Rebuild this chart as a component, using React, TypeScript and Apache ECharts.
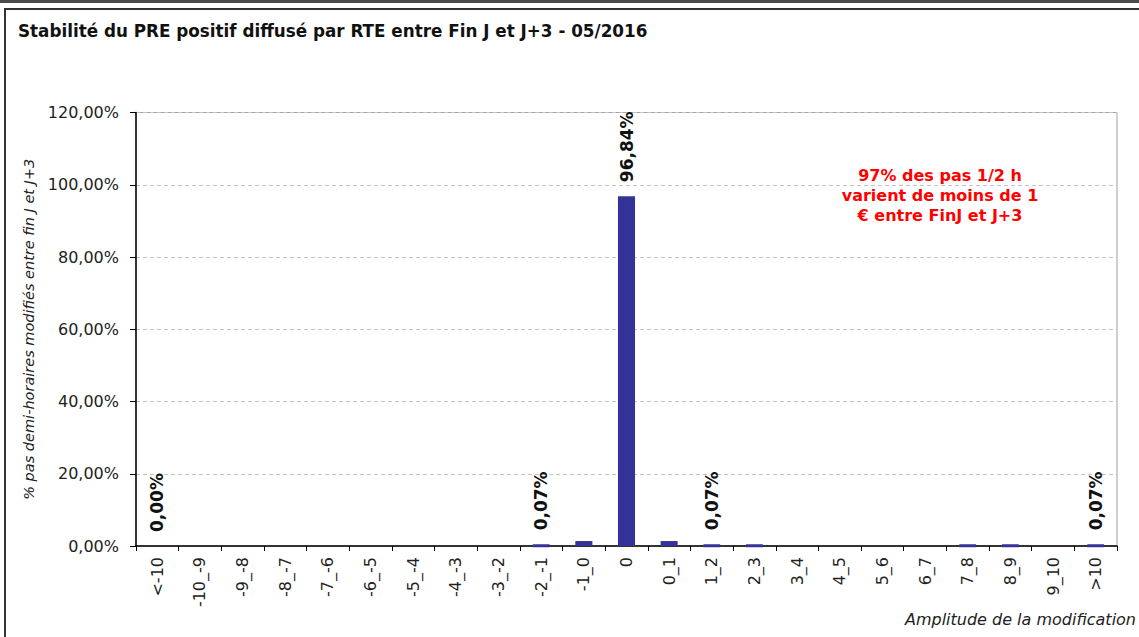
import React, { useEffect, useRef } from "react";
import * as echarts from "echarts";

const categories = [
  "<-10", "-10_-9", "-9_-8", "-8_-7", "-7_-6", "-6_-5", "-5_-4", "-4_-3", "-3_-2",
  "-2_-1", "-1_0", "0", "0_1", "1_2", "2_3", "3_4", "4_5", "5_6", "6_7", "7_8",
  "8_9", "9_10", ">10",
];
const values = [
  0, 0, 0, 0, 0, 0, 0, 0, 0,
  0.07, 1.37, 96.84, 1.37, 0.07, 0.07, 0, 0, 0, 0, 0.07,
  0.07, 0, 0.07,
];
const labeledCategories = ["<-10", "-2_-1", "0", "1_2", ">10"];
const yTicks = [0, 20, 40, 60, 80, 100, 120];

const title = "Stabilité du PRE positif diffusé par RTE entre Fin J et J+3 - 05/2016";
const yAxisName = "% pas demi-horaires modifiés entre fin J et J+3";
const xAxisName = "Amplitude de la modification";
const annotation = "97% des pas 1/2 h\nvarient de moins de 1\n€ entre FinJ et J+3";

const FONT = "DejaVu Sans";
const BAR = "#333399";

const fmt = (v: number) => v.toFixed(2).replace(".", ",") + "%";

export default function App() {
  const ref = useRef<HTMLDivElement>(null);
  useEffect(() => {
    if (!ref.current) return;
    const chart = echarts.init(ref.current, null, { renderer: "svg" });
    const data = values.map((v, i) => {
      const item: any = { value: v };
      if (v > 0) item.itemStyle = { borderColor: BAR, borderWidth: 3 };
      if (labeledCategories.includes(categories[i])) {
        item.label = {
          show: true,
          position: "top",
          rotate: 90,
          align: "left",
          verticalAlign: "middle",
          distance: 14,
          formatter: (p: any) => fmt(p.value),
          fontFamily: FONT,
          fontWeight: "bold",
          fontSize: 17,
          color: "#111",
        };
      }
      return item;
    });
    chart.setOption({
      animation: false,
      backgroundColor: "#fff",
      textStyle: { fontFamily: FONT },
      grid: {
        left: 136,
        right: 22,
        top: 112.5,
        bottom: 91,
        show: true,
        borderColor: "#a0a0a0",
        borderWidth: 1,
        containLabel: false,
      },
      graphic: [
        { type: "rect", shape: { x: 0, y: 0, width: 1139, height: 3 }, style: { fill: "#4a4a4a" } },
        {
          type: "rect",
          shape: { x: 5, y: 9, width: 1200, height: 700 },
          style: { fill: "none", stroke: "#333", lineWidth: 2 },
        },
        {
          type: "text",
          left: 18,
          top: 22,
          style: { text: title, font: `bold 16.8px "${FONT}"`, fill: "#111" },
        },
        {
          type: "text",
          x: 940,
          y: 165,
          style: {
            text: annotation,
            font: `bold 16px "${FONT}"`,
            fill: "#ff0000",
            align: "center",
            lineHeight: 20,
          },
        },
      ],
      xAxis: {
        type: "category",
        data: categories,
        boundaryGap: true,
        name: xAxisName,
        nameLocation: "end",
        nameGap: 19,
        nameTextStyle: {
          fontFamily: FONT,
          fontStyle: "italic",
          fontSize: 16,
          color: "#222",
          align: "right",
          verticalAlign: "top",
          padding: [65, 0, 0, 0],
        },
        axisLine: { lineStyle: { color: "#000", width: 1.5 } },
        axisTick: { show: true, alignWithLabel: false, length: 5, lineStyle: { color: "#000" } },
        axisLabel: {
          interval: 0,
          rotate: 90,
          margin: 11,
          fontFamily: FONT,
          fontSize: 16,
          color: "#222",
        },
        splitLine: { show: false },
      },
      yAxis: {
        type: "value",
        min: 0,
        max: 120,
        interval: 20,
        name: yAxisName,
        nameLocation: "middle",
        nameGap: 96,
        nameTextStyle: {
          fontFamily: FONT,
          fontStyle: "italic",
          fontSize: 14.5,
          color: "#222",
        },
        axisLine: { show: true, lineStyle: { color: "#000", width: 1.5 } },
        axisTick: { show: true, length: 6, lineStyle: { color: "#000" } },
        axisLabel: {
          margin: 17,
          fontFamily: FONT,
          fontSize: 16,
          color: "#222",
          formatter: (v: number) => (yTicks.includes(v) ? fmt(v) : ""),
        },
        splitLine: { show: true, lineStyle: { color: "#c4c4c4", type: [4, 3], width: 1 } },
      },
      series: [
        {
          type: "bar",
          data,
          barWidth: "40%",
          itemStyle: { color: BAR },
          label: { show: false },
        },
      ],
    });
    return () => chart.dispose();
  }, []);
  return (
    <div
      ref={ref}
      style={{ position: "fixed", left: 0, top: 0, width: 1139, height: 637, background: "#fff" }}
    />
  );
}
